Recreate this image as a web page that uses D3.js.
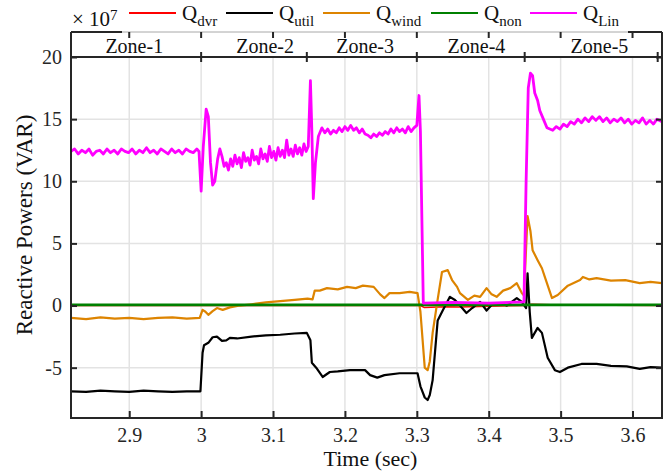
<!DOCTYPE html>
<html>
<head>
<meta charset="utf-8">
<script src="https://cdn.jsdelivr.net/npm/d3@7"></script>
<style>
body { margin: 0; background: #fff; }
svg text { font-family: "Liberation Serif", "Times New Roman", Times, "DejaVu Serif", serif !important; }
</style>
</head>
<body>
<div id="chart"></div>
<script>
// data (values in units of 1e7 VAR, time in sec)
var qDvr = [[2.819,0],[3.305,0],[3.31,-0.15],[3.34,-0.1],[3.36,-0.12],[3.40,-0.05],[3.45,0],[3.46,0.1],[3.50,0.05],[3.641,0]];
var qUtil = [[2.819,-6.9],[2.84,-6.95],[2.86,-6.85],[2.88,-6.9],[2.90,-6.95],[2.92,-6.85],[2.94,-6.9],[2.96,-6.95],[2.98,-6.9],[2.999,-6.9],
  [3.002,-3.8],[3.004,-3.2],[3.01,-3.0],[3.016,-2.55],[3.022,-2.5],[3.029,-2.85],[3.035,-2.8],[3.04,-2.6],[3.05,-2.65],[3.07,-2.5],[3.09,-2.4],[3.11,-2.35],[3.13,-2.25],[3.147,-2.2],
  [3.152,-2.8],[3.154,-4.6],[3.16,-5.0],[3.169,-5.75],[3.179,-5.35],[3.19,-5.3],[3.207,-5.2],[3.228,-5.2],[3.235,-5.6],[3.245,-5.8],[3.255,-5.6],[3.276,-5.45],[3.301,-5.45],
  [3.305,-6.5],[3.311,-7.4],[3.315,-7.6],[3.318,-7.2],[3.322,-6.0],[3.329,-1.2],[3.336,-0.4],[3.346,0.7],[3.353,0.45],[3.36,0.0],[3.369,-0.6],[3.377,-0.2],[3.388,0.3],[3.397,-0.4],[3.405,0.1],[3.415,0.2],[3.425,0.0],[3.439,0.6],[3.446,0.3],[3.452,-0.2],
  [3.454,2.6],[3.457,-0.5],[3.460,-2.6],[3.468,-1.8],[3.474,-2.2],[3.482,-4.2],[3.492,-5.2],[3.499,-5.35],[3.51,-5.0],[3.529,-4.7],[3.55,-4.7],[3.57,-4.85],[3.592,-4.9],[3.61,-5.1],[3.625,-4.95],[3.641,-5.0]];
var qWind = [[2.819,-1.0],[2.84,-1.1],[2.86,-0.95],[2.88,-1.05],[2.90,-1.0],[2.92,-1.1],[2.94,-1.0],[2.96,-0.95],[2.98,-1.05],[2.998,-1.0],
  [3.002,-0.35],[3.006,-0.5],[3.010,-0.75],[3.016,-0.45],[3.022,-0.2],[3.03,-0.35],[3.04,-0.15],[3.054,0.0],[3.07,0.1],[3.09,0.25],[3.11,0.35],[3.13,0.45],[3.148,0.55],
  [3.155,0.5],[3.158,1.2],[3.165,1.2],[3.175,1.4],[3.19,1.3],[3.203,1.5],[3.215,1.4],[3.225,1.6],[3.24,1.5],[3.249,0.9],[3.255,0.6],[3.262,1.0],[3.276,1.0],[3.29,1.1],[3.301,1.0],
  [3.305,-0.5],[3.311,-5.0],[3.315,-5.2],[3.318,-4.5],[3.322,-2.2],[3.329,0.5],[3.335,2.7],[3.343,2.85],[3.349,2.05],[3.356,1.5],[3.36,1.0],[3.371,0.45],[3.38,0.8],[3.388,0.7],[3.397,1.4],[3.404,0.9],[3.411,0.7],[3.42,1.2],[3.43,1.4],[3.439,1.8],[3.446,1.0],[3.449,0.8],
  [3.454,7.2],[3.458,6.0],[3.461,4.45],[3.468,3.65],[3.474,3.0],[3.478,2.3],[3.488,0.6],[3.496,0.85],[3.51,1.6],[3.527,2.05],[3.531,2.3],[3.54,2.1],[3.55,2.2],[3.57,2.0],[3.59,2.05],[3.61,1.8],[3.625,1.9],[3.641,1.8]];
var qNon = [[2.819,0.05],[3.2,0.05],[3.4,0.05],[3.641,0.05]];
var qLin = [[2.819,12.4],[2.824,12.6],[2.829,12.2],[2.834,12.5],[2.839,12.3],[2.844,12.6],[2.849,12.1],[2.854,12.4],[2.859,12.5],[2.864,12.2],[2.869,12.6],[2.874,12.3],[2.879,12.5],[2.884,12.2],[2.889,12.6],[2.894,12.4],[2.899,12.3],[2.904,12.6],[2.909,12.2],[2.914,12.5],[2.919,12.3],[2.924,12.7],[2.929,12.3],[2.934,12.5],[2.939,12.2],[2.944,12.6],[2.949,12.4],[2.954,12.2],[2.959,12.6],[2.964,12.3],[2.969,12.5],[2.974,12.2],[2.979,12.6],[2.984,12.4],[2.989,12.3],[2.994,12.6],[2.997,12.4],
  [3.000,9.2],[3.003,12.8],[3.007,15.8],[3.010,15.2],[3.013,11.5],[3.016,9.7],[3.019,10.0],[3.023,11.8],
  [3.026,12.6],[3.029,12.0],[3.032,11.2],[3.035,11.5],[3.038,10.9],[3.041,11.8],[3.044,11.2],[3.047,12.1],[3.050,11.4],[3.053,11.9],[3.056,11.1],[3.059,12.3],[3.062,11.6],[3.065,11.9],[3.068,11.3],[3.071,12.5],[3.074,11.7],[3.077,12.0],[3.080,11.4],[3.083,12.6],[3.086,11.8],[3.089,12.2],[3.092,11.6],[3.095,12.8],[3.098,11.9],[3.101,12.4],[3.104,11.7],[3.107,12.7],[3.110,12.0],[3.113,12.5],[3.116,11.9],[3.119,13.3],[3.122,12.1],[3.125,12.6],[3.128,12.0],[3.131,12.9],[3.134,12.2],[3.137,12.7],[3.140,12.1],[3.143,13.0],[3.146,12.4],[3.149,12.8],
  [3.152,18.1],[3.154,14.0],[3.156,8.6],[3.159,11.5],
  [3.163,13.6],[3.168,14.3],[3.172,13.9],[3.176,14.2],[3.180,13.8],[3.184,14.1],[3.188,13.9],[3.192,14.3],[3.196,14.0],[3.200,14.4],[3.204,14.1],[3.208,14.5],[3.212,14.1],[3.216,14.3],[3.220,13.9],[3.224,14.2],[3.228,13.8],[3.232,13.7],[3.236,13.5],[3.240,13.8],[3.244,13.6],[3.248,13.9],[3.252,13.7],[3.256,14.0],[3.260,13.8],[3.264,14.2],[3.268,13.9],[3.272,14.3],[3.276,14.0],[3.280,14.2],[3.284,13.9],[3.288,14.4],[3.292,14.0],[3.296,14.3],[3.300,14.5],
  [3.303,16.9],[3.305,14.0],[3.309,0.2],[3.35,0.25],[3.40,0.2],[3.449,0.3],[3.452,10],[3.455,17.5],[3.458,18.7],[3.461,18.5],[3.464,17.1],[3.468,16.5],[3.471,15.7],[3.476,15.0],[3.481,14.3],
  [3.489,14.1],[3.494,14.4],[3.499,14.2],[3.504,14.6],[3.509,14.4],[3.514,14.8],[3.519,14.6],[3.524,15.0],[3.529,14.7],[3.534,15.1],[3.539,14.8],[3.544,15.2],[3.549,14.9],[3.554,15.2],[3.559,14.8],[3.564,15.1],[3.569,14.7],[3.574,15.0],[3.579,14.8],[3.584,15.1],[3.589,14.7],[3.594,15.0],[3.599,14.6],[3.604,14.9],[3.609,14.7],[3.614,15.1],[3.619,14.6],[3.624,14.9],[3.629,14.6],[3.634,15.0],[3.641,14.8]];

var xTicks = [2.9, 3.0, 3.1, 3.2, 3.3, 3.4, 3.5, 3.6];
var xTickLabels = ["2.9", "3", "3.1", "3.2", "3.3", "3.4", "3.5", "3.6"];
var yTicks = [-5, 0, 5, 10, 15, 20];
var yTickLabels = ["-5", "0", "5", "10", "15", "20"];
var zoneEdges = [2.819, 3.0, 3.147, 3.3, 3.45, 3.635];
var zoneNames = ["Zone-1", "Zone-2", "Zone-3", "Zone-4", "Zone-5"];
var zoneLabelAt = [2.907, 3.089, 3.228, 3.383, 3.554];
var seriesNames = ["dvr", "util", "wind", "non", "Lin"];
var seriesColors = ["#ff0000", "#000000", "#dd8400", "#008000", "#ff00ff"];

var width = 666, height = 473;
var margin = {top: 57, right: 4, bottom: 55, left: 71};
var stripTop = 32;
var serif = "Liberation Serif";

var svg = d3.select("#chart").append("svg")
    .attr("width", width)
    .attr("height", height)
    .attr("font-family", serif);

var x = d3.scaleLinear().domain([2.819, 3.641]).range([margin.left, width - margin.right]);
var y = d3.scaleLinear().domain([-9.05, 20]).range([height - margin.bottom, margin.top]);

// grid
svg.append("g").selectAll("line").data(xTicks).join("line")
    .attr("x1", d => x(d)).attr("x2", d => x(d))
    .attr("y1", margin.top).attr("y2", height - margin.bottom)
    .attr("stroke", "#e3e3e3").attr("stroke-width", 1.5);
svg.append("g").selectAll("line").data(yTicks).join("line")
    .attr("x1", margin.left).attr("x2", width - margin.right)
    .attr("y1", d => y(d)).attr("y2", d => y(d))
    .attr("stroke", "#e3e3e3").attr("stroke-width", 1.5);

// lines
svg.append("clipPath").attr("id", "clip").append("rect")
    .attr("x", margin.left).attr("y", margin.top)
    .attr("width", width - margin.right - margin.left)
    .attr("height", height - margin.bottom - margin.top);

var line = d3.line().x(d => x(d[0])).y(d => y(d[1]));
var plot = svg.append("g").attr("clip-path", "url(#clip)");
var allSeries = [qDvr, qUtil, qWind, qNon, qLin];
var widths = [1.5, 2.2, 2.2, 2.8, 2.8];
allSeries.forEach((s, i) => {
  plot.append("path")
      .attr("d", line(s))
      .attr("fill", "none")
      .attr("stroke", seriesColors[i])
      .attr("stroke-width", widths[i])
      .attr("stroke-linejoin", "round");
});

// axes (MATLAB style box with inward ticks)
var axisColor = "#262626";
var xAxis = g => g
    .attr("transform", `translate(0,${height - margin.bottom})`)
    .call(d3.axisBottom(x).tickValues(xTicks).tickSize(-7).tickPadding(10)
      .tickFormat((d, i) => xTickLabels[i]))
    .call(g => g.select(".domain").remove());
var yAxis = g => g
    .attr("transform", `translate(${margin.left},0)`)
    .call(d3.axisLeft(y).tickValues(yTicks).tickSize(-6).tickPadding(9)
      .tickFormat((d, i) => yTickLabels[i]))
    .call(g => g.select(".domain").remove());
var yAxisRight = g => g
    .attr("transform", `translate(${width - margin.right},0)`)
    .call(d3.axisRight(y).tickValues(yTicks).tickSize(-6).tickFormat(""))
    .call(g => g.select(".domain").remove());

[xAxis, yAxis, yAxisRight].forEach(a => {
  svg.append("g").call(a)
    .attr("font-family", serif)
    .call(g => g.selectAll("line").attr("stroke", axisColor).attr("stroke-width", 2))
    .call(g => g.selectAll("text").attr("fill", axisColor).attr("font-size", 20));
});

// frame
var L = margin.left, R = width - margin.right, B = height - margin.bottom, T = margin.top;
svg.append("path")
    .attr("d", `M${L},${stripTop}V${B}H${R}V${stripTop}M${L},${T}H${R}`)
    .attr("fill", "none").attr("stroke", axisColor).attr("stroke-width", 2);

// zone strip
svg.append("line").attr("x1", L).attr("x2", R).attr("y1", stripTop).attr("y2", stripTop)
    .attr("stroke", "#a8a8a8").attr("stroke-width", 1);
svg.append("path").attr("d", `M${L},${stripTop}H${L + 51}M${R - 34},${stripTop}H${R}`)
    .attr("stroke", axisColor).attr("stroke-width", 2);
svg.append("g").selectAll("line").data(xTicks).join("line")
    .attr("x1", d => x(d)).attr("x2", d => x(d))
    .attr("y1", stripTop).attr("y2", stripTop + 6)
    .attr("stroke", axisColor).attr("stroke-width", 2);
svg.append("g").selectAll("line").data(zoneEdges).join("line")
    .attr("x1", d => x(d)).attr("x2", d => x(d))
    .attr("y1", T - 5).attr("y2", T + 5)
    .attr("stroke", axisColor).attr("stroke-width", 2);
svg.append("g").selectAll("text").data(zoneNames).join("text")
    .attr("x", (d, i) => x(zoneLabelAt[i]))
    .attr("y", 53)
    .attr("text-anchor", "middle")
    .attr("font-size", 20)
    .attr("fill", "#111")
    .text(d => d);

// axis labels
svg.append("text")
    .attr("x", (L + R) / 2 + 4).attr("y", 466)
    .attr("text-anchor", "middle").attr("font-size", 22).attr("fill", "#111")
    .text("Time (sec)");
svg.append("text")
    .attr("transform", `translate(32,${(stripTop + B) / 2}) rotate(-90)`)
    .attr("text-anchor", "middle").attr("font-size", 23).attr("fill", "#111")
    .text("Reactive Powers (VAR)");

// exponent
var ex = svg.append("text").attr("x", 72).attr("y", 26).attr("font-size", 21).attr("fill", "#111");
ex.append("tspan").text("\u00d7 10");
ex.append("tspan").attr("dy", -6).attr("font-size", 15).text("7");

// legend
var legX = [129, 226, 323, 431, 530];
var leg = svg.append("g");
seriesNames.forEach((n, i) => {
  leg.append("line")
      .attr("x1", legX[i]).attr("x2", legX[i] + 47)
      .attr("y1", 13).attr("y2", 13)
      .attr("stroke", seriesColors[i]).attr("stroke-width", 1.8);
  var t = leg.append("text").attr("x", legX[i] + 53).attr("y", 20)
      .attr("font-size", 21).attr("fill", "#111");
  t.append("tspan").text("Q");
  t.append("tspan").attr("dy", 6).attr("font-size", 15).text(n);
});
</script>
</body>
</html>
